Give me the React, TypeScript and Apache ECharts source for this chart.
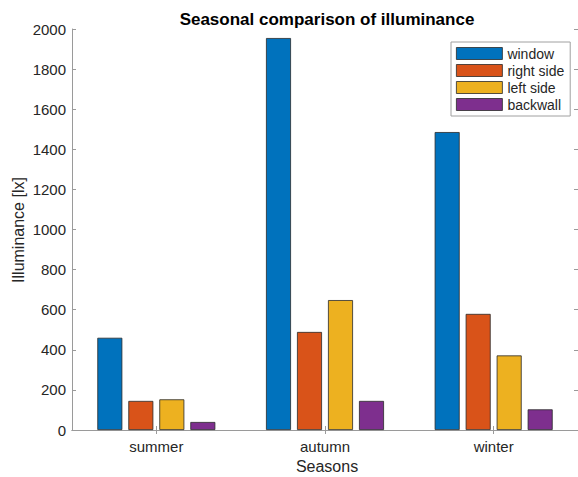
import React, { useEffect, useRef } from "react";
import * as echarts from "echarts";

// Seasonal illuminance readings per measuring position
const seasons = ["summer", "autumn", "winter"];
const windowLx = [460, 1955, 1486];
const rightSideLx = [145, 489, 579];
const leftSideLx = [153, 648, 372];
const backwallLx = [40, 145, 103];

const seriesNames = ["window", "right side", "left side", "backwall"];
const seriesColors = ["#0072BD", "#D95319", "#EDB120", "#7E2F8E"];
const seriesValues = [windowLx, rightSideLx, leftSideLx, backwallLx];

const yTicks = { min: 0, max: 2000, interval: 200 };

const FONT = "'Liberation Sans', Arial, Helvetica, sans-serif";
const AXIS_GRAY = "#9a9a9a";
const TEXT_DARK = "#262626";

export default function App() {
  const ref = useRef<HTMLDivElement>(null);

  useEffect(() => {
    if (!ref.current) return;
    const chart = echarts.init(ref.current, undefined, { renderer: "svg" });

    const gridLeft = 72;
    const gridTop = 29;
    const gridRight = -3;
    const gridBottom = 47;

    const baseAxisLine = { show: true, lineStyle: { color: AXIS_GRAY, width: 1 } };

    chart.setOption({
      animation: false,
      backgroundColor: "#ffffff",
      textStyle: { fontFamily: FONT },
      grid: { left: gridLeft, top: gridTop, right: gridRight, bottom: gridBottom, containLabel: false },
      legend: {
        orient: "vertical",
        left: 451,
        top: 42,
        data: seriesNames,
        icon: "rect",
        itemWidth: 46,
        itemHeight: 12,
        itemGap: 0,
        itemStyle: { borderColor: "#2a2a2a", borderWidth: 0.8 },
        padding: [3, 6, 3, 5],
        backgroundColor: "#ffffff",
        borderColor: "#a0a0a0",
        borderWidth: 1,
        borderRadius: 0,
        textStyle: { fontFamily: FONT, fontSize: 14, color: TEXT_DARK, lineHeight: 17 },
      },
      xAxis: [
        {
          type: "category",
          data: seasons,
          position: "bottom",
          axisLine: baseAxisLine,
          axisTick: { show: true, inside: true, alignWithLabel: true, length: 4, lineStyle: { color: AXIS_GRAY } },
          axisLabel: { fontFamily: FONT, fontSize: 15, color: TEXT_DARK, margin: 9 },
          splitLine: { show: false },
        },
        {
          type: "category",
          data: seasons,
          position: "top",
          axisLine: baseAxisLine,
          axisTick: { show: true, inside: true, alignWithLabel: true, length: 4, lineStyle: { color: AXIS_GRAY } },
          axisLabel: { show: false },
          splitLine: { show: false },
        },
      ],
      yAxis: [
        {
          type: "value",
          position: "left",
          min: yTicks.min,
          max: yTicks.max,
          interval: yTicks.interval,
          axisLine: baseAxisLine,
          axisTick: { show: true, inside: true, length: 4, lineStyle: { color: AXIS_GRAY } },
          axisLabel: {
            fontFamily: FONT,
            fontSize: 15,
            color: TEXT_DARK,
            margin: 6,
            formatter: (v: number) => String(v),
          },
          splitLine: { show: false },
        },
        {
          type: "value",
          position: "right",
          min: yTicks.min,
          max: yTicks.max,
          interval: yTicks.interval,
          axisLine: { show: false },
          axisTick: { show: true, inside: true, length: 4, lineStyle: { color: AXIS_GRAY } },
          axisLabel: { show: false },
          splitLine: { show: false },
        },
      ],
      series: seriesNames.map((name, i) => ({
        name,
        type: "bar",
        xAxisIndex: 0,
        yAxisIndex: 0,
        data: seriesValues[i],
        barWidth: 25,
        barGap: "24%",
        itemStyle: { color: seriesColors[i], borderColor: "#2a2a2a", borderWidth: 0.8 },
      })),
      graphic: [
        {
          type: "text",
          x: 327,
          y: 19,
          style: {
            text: "Seasonal comparison of illuminance",
            fontFamily: FONT,
            fontSize: 17,
            fontWeight: "bold",
            fill: "#000000",
            align: "center",
            verticalAlign: "middle",
          },
        },
        {
          type: "text",
          x: 18,
          y: 230,
          rotation: Math.PI / 2,
          style: {
            text: "Illuminance [lx]",
            fontFamily: FONT,
            fontSize: 16,
            fill: TEXT_DARK,
            align: "center",
            verticalAlign: "middle",
          },
        },
        {
          type: "text",
          x: 327,
          y: 466,
          style: {
            text: "Seasons",
            fontFamily: FONT,
            fontSize: 16,
            fill: TEXT_DARK,
            align: "center",
            verticalAlign: "middle",
          },
        },
      ],
    });

    return () => chart.dispose();
  }, []);

  return (
    <div
      ref={ref}
      style={{ position: "absolute", left: 0, top: 0, width: 578, height: 477 }}
    />
  );
}
